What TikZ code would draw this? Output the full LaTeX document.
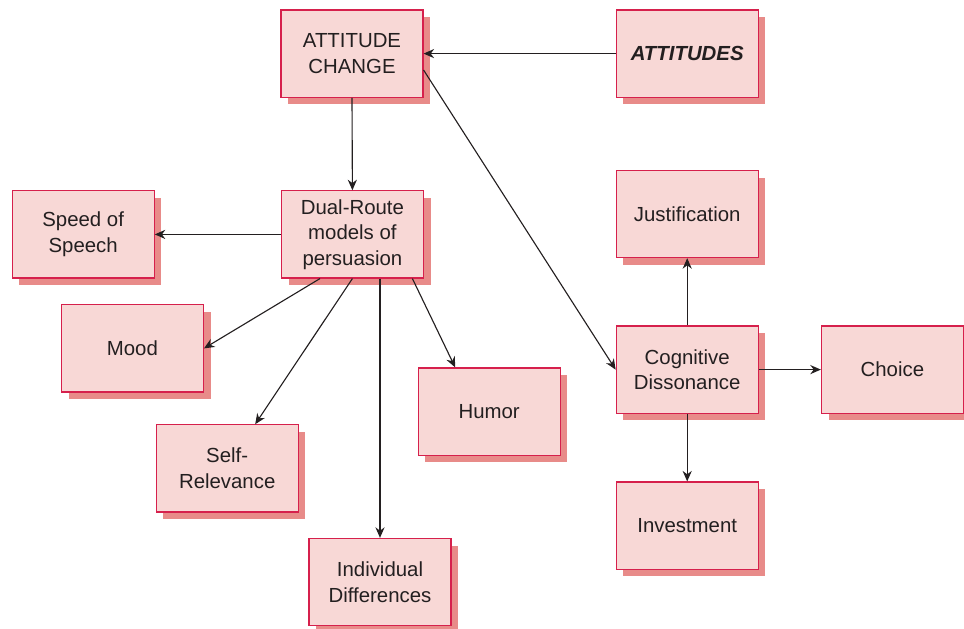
\documentclass[tikz,border=0pt]{standalone}
\usepackage{fontspec}
\setmainfont{Liberation Sans}
\usetikzlibrary{arrows.meta,shadows}
\definecolor{boxfill}{RGB}{248,216,214}
\definecolor{boxline}{RGB}{214,32,76}
\definecolor{boxshadow}{RGB}{232,139,137}
\definecolor{ink}{RGB}{35,31,32}
\begin{document}
\begin{tikzpicture}

        \useasboundingbox (0,0) rectangle (24.1,-15.7);

        \begin{scope}[every node/.style={rectangle, draw=boxline, fill=boxfill, line width=0.8pt,
            minimum width=3.55cm, minimum height=2.18cm, align=center, text=ink,
            font=\fontsize{14.5}{18.2}\selectfont,
            drop shadow={shadow xshift=0.18cm, shadow yshift=-0.18cm, fill=boxshadow, opacity=1}}]
          \node (1)  at (8.8,-1.34)    {ATTITUDE\\CHANGE};
          \node (2)  at (17.18,-1.34)  {\textbf{\textit{ATTITUDES}}};
          \node (3)  at (8.81,-5.86)   {Dual-Route\\models of\\persuasion};
          \node (4)  at (2.08,-5.86)   {Speed of\\Speech};
          \node (5)  at (3.31,-8.71)   {Mood};
          \node (6)  at (5.68,-11.71)  {Self-\\Relevance};
          \node (7)  at (9.5,-14.55)   {Individual\\Differences};
          \node (8)  at (12.23,-10.29) {Humor};
          \node (9)  at (17.18,-5.35)  {Justification};
          \node (10) at (17.18,-9.24)  {Cognitive\\Dissonance};
          \node (11) at (22.31,-9.24)  {Choice};
          \node (12) at (17.18,-13.14) {Investment};
        \end{scope}

        \begin{scope}[every edge/.style={draw, ink, line width=0.8pt, -{Stealth[length=7.5pt,width=6.5pt]}}]
          \path (2.west)  edge (1.east);
          \path (1.south) edge (3.north);
          \path ([yshift=-0.41cm]1.east) edge (10.west);
          \path (3.west)  edge (4.east);
          \path ([xshift=-0.81cm]3.south) edge (5.east);
          \path (3.south) edge ([xshift=0.7cm]6.north);
          \path ([xshift=0.69cm]3.south) edge (7.north);
          \path ([xshift=1.5cm]3.south) edge ([xshift=-0.85cm]8.north);
          \path (10.north) edge (9.south);
          \path (10.east) edge (11.west);
          \path (10.south) edge (12.north);
        \end{scope}

      \end{tikzpicture}
\end{document}
